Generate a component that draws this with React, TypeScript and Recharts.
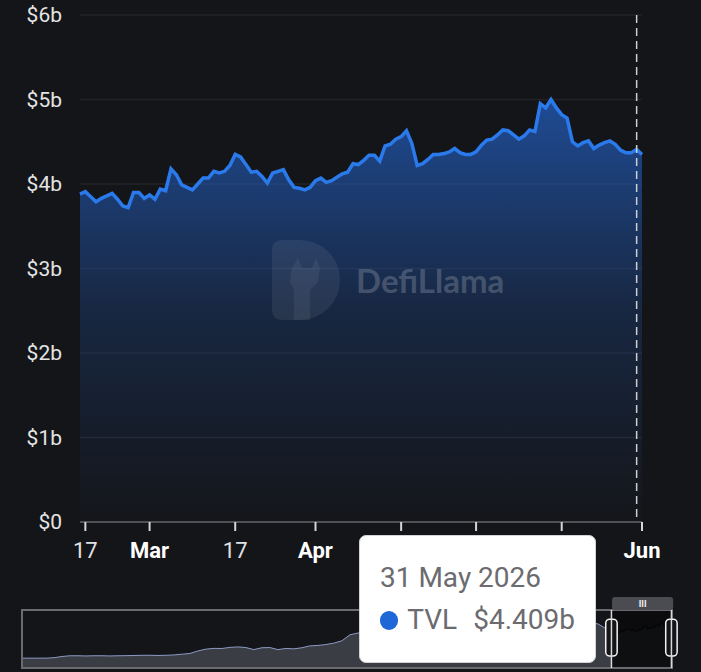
import React from "react";
import {
  Area,
  AreaChart,
  CartesianGrid,
  ReferenceArea,
  ReferenceLine,
  Tooltip,
  XAxis,
  YAxis,
} from "recharts";

// daily TVL in $b, 16 Feb 2026 .. 1 Jun 2026
const START_UTC = Date.UTC(2026, 1, 16);
const tvl = [
  3.88, 3.91, 3.85, 3.79, 3.83, 3.86, 3.89, 3.82, 3.74, 3.72,
  3.9, 3.9, 3.83, 3.87, 3.82, 3.94, 3.92, 4.18, 4.11, 3.99,
  3.96, 3.93, 4.0, 4.07, 4.07, 4.15, 4.13, 4.15, 4.22, 4.35,
  4.32, 4.23, 4.14, 4.15, 4.09, 4.01, 4.13, 4.15, 4.17, 4.05,
  3.96, 3.95, 3.93, 3.96, 4.04, 4.07, 4.02, 4.04, 4.08, 4.12,
  4.14, 4.24, 4.23, 4.28, 4.34, 4.34, 4.27, 4.45, 4.47, 4.53,
  4.56, 4.63, 4.48, 4.22, 4.24, 4.29, 4.35, 4.35, 4.36, 4.38,
  4.42, 4.37, 4.35, 4.35, 4.38, 4.46, 4.52, 4.53, 4.58, 4.64,
  4.63, 4.58, 4.53, 4.57, 4.64, 4.62, 4.95, 4.9, 5.0, 4.9,
  4.82, 4.78, 4.5, 4.45, 4.49, 4.51, 4.42, 4.46, 4.49, 4.51,
  4.47, 4.4, 4.37, 4.37, 4.409, 4.35,
];

// x-axis ticks (day offsets from start) and their labels
const tickDays = [1, 13, 29, 44, 60, 74, 90, 105];
const tickLabels = ["17", "Mar", "17", "Apr", "17", "May", "17", "Jun"];
const monthLabels = ["Mar", "Apr", "May", "Jun"];

const yTicks = [0, 1, 2, 3, 4, 5, 6];
const yLabels = ["$0", "$1b", "$2b", "$3b", "$4b", "$5b", "$6b"];

// longer history for the range slider, one point every 14 days, ending 10 days before start
const HISTORY_STEP = 14;
const HISTORY_END = -10;
const historyTvl = [
  1.07, 1.07, 1.07, 1.07, 1.12, 1.25, 1.33, 1.33, 1.31, 1.33,
  1.33, 1.31, 1.33, 1.34, 1.36, 1.38, 1.38, 1.36, 1.38, 1.42,
  1.5, 1.58, 1.85, 2.05, 2.13, 2.12, 2.24, 2.29, 2.22, 2.0,
  2.2, 2.22, 2.0, 2.12, 2.08, 2.2, 2.4, 2.45, 2.55, 2.7,
  2.95, 3.6, 3.8, 3.9, 4.1, 4.4, 4.2, 4.6, 5.0, 5.4,
  5.1, 5.6, 6.0, 5.7, 5.3, 5.5, 5.2, 4.9, 5.1, 5.4,
  5.0, 4.8, 5.0, 5.3, 5.1, 5.4, 5.6, 5.3, 5.5, 5.2,
  5.0, 4.9, 4.8, 4.3,
];

const BG = "#141518";
const LINE = "#2a7aec";

const mainRows = tvl.map((v, i) => ({ day: i, tvl: v }));

const histStart = HISTORY_END - HISTORY_STEP * (historyTvl.length - 1);
const miniRows = [
  ...historyTvl.map((v, i) => ({ day: histStart + i * HISTORY_STEP, hist: v })),
  ...tvl.map((v, i) => ({ day: i, hist: i === 0 ? v : undefined, win: v })),
];

const fmtDate = (day: number) =>
  new Date(START_UTC + day * 86400000).toLocaleDateString("en-GB", {
    day: "numeric",
    month: "short",
    year: "numeric",
    timeZone: "UTC",
  });

function XTick(props: any) {
  const { x, y, payload } = props;
  const label = tickLabels[tickDays.indexOf(payload.value)];
  const bold = monthLabels.includes(label);
  return (
    <text
      x={x}
      y={y}
      dy={25}
      textAnchor="middle"
      fontFamily="Roboto"
      fontSize={22}
      fontWeight={bold ? 700 : 400}
      fill={bold ? "#ffffff" : "#e2e2e2"}
    >
      {label}
    </text>
  );
}

function YTick(props: any) {
  const { y, payload } = props;
  return (
    <text
      x={62}
      y={y}
      dy={7}
      textAnchor="end"
      fontFamily="Roboto"
      fontSize={21}
      fill="#e4e4e4"
    >
      {yLabels[yTicks.indexOf(payload.value)]}
    </text>
  );
}

function TvlTooltip({ active, payload, label }: any) {
  if (!active || !payload || !payload.length) return null;
  const v = payload[0].value as number;
  return (
    <div
      style={{
        width: 237,
        height: 128,
        boxSizing: "border-box",
        background: "#fff",
        border: "1px solid #d4d4d4",
        borderRadius: 7,
        padding: "0 20px",
        fontFamily: "Roboto",
        fontSize: 28,
        color: "#6b6b70",
      }}
    >
      <div style={{ paddingTop: 26, lineHeight: "32px" }}>{fmtDate(label)}</div>
      <div style={{ display: "flex", alignItems: "center", marginTop: 10, lineHeight: "32px" }}>
        <span
          style={{
            width: 19,
            height: 19,
            borderRadius: 10,
            background: "#1f66d6",
            marginRight: 9,
          }}
        />
        <span>TVL</span>
        <span style={{ marginLeft: 16 }}>${v.toFixed(3)}b</span>
      </div>
    </div>
  );
}

function Watermark() {
  return (
    <svg
      width={260}
      height={90}
      style={{ position: "absolute", left: 270, top: 238, pointerEvents: "none" }}
    >
      <path
        d="M2 12 Q2 2 12 2 L30 2 A40 40 0 0 1 30 82 L12 82 Q2 82 2 72 Z"
        fill="rgba(255,255,255,0.07)"
      />
      <path
        d="M22 30 L28 20 L32 30 L42 30 L46 20 L50 30 L48 44 L40 52 L40 82 L24 82 L24 52 L20 44 Z"
        fill="rgba(255,255,255,0.06)"
      />
      <text
        x={86}
        y={55}
        fontFamily="Lato"
        fontWeight={700}
        fontSize={33}
        fill="rgba(255,255,255,0.2)"
      >
        DefiLlama
      </text>
    </svg>
  );
}

export default function App() {
  return (
    <div
      style={{
        position: "absolute",
        left: 0,
        top: 0,
        width: 701,
        height: 672,
        background: BG,
        overflow: "hidden",
        fontFamily: "Roboto",
      }}
    >
      <div style={{ position: "absolute", left: 0, top: 0, zIndex: 2 }}>
        <AreaChart
          width={701}
          height={570}
          data={mainRows}
          margin={{ top: 15, right: 59, bottom: 8, left: 0 }}
        >
          <defs>
            <linearGradient id="tvlFill" x1="0" y1="0" x2="0" y2="1">
              <stop offset="0%" stopColor="#2360c4" stopOpacity={0.72} />
              <stop offset="50%" stopColor="#2360c4" stopOpacity={0.24} />
              <stop offset="100%" stopColor="#2360c4" stopOpacity={0.01} />
            </linearGradient>
          </defs>
          <CartesianGrid vertical={false} stroke="#222327" strokeWidth={1.5} />
          <XAxis
            dataKey="day"
            type="number"
            domain={[0, 105]}
            ticks={tickDays}
            interval={0}
            height={40}
            tickSize={9}
            tickLine={{ stroke: "#d6d6d6", strokeWidth: 2 }}
            axisLine={{ stroke: "#4f5156", strokeWidth: 2 }}
            tick={<XTick />}
          />
          <YAxis
            domain={[0, 6]}
            ticks={yTicks}
            width={80}
            axisLine={false}
            tickLine={false}
            tick={<YTick />}
          />
          <Tooltip
            defaultIndex={104}
            position={{ x: 359, y: 535 }}
            allowEscapeViewBox={{ x: true, y: true }}
            cursor={{ stroke: "#cfcfcf", strokeWidth: 1.5, strokeDasharray: "8 5" }}
            content={<TvlTooltip />}
            isAnimationActive={false}
            wrapperStyle={{ zIndex: 10, outline: "none" }}
          />
          <Area
            type="linear"
            dataKey="tvl"
            stroke={LINE}
            strokeWidth={3.5}
            fill="url(#tvlFill)"
            fillOpacity={1}
            dot={false}
            activeDot={false}
            isAnimationActive={false}
          />
        </AreaChart>
        <Watermark />
      </div>

      <div style={{ position: "absolute", left: 0, top: 590, zIndex: 1 }}>
        <AreaChart
          width={701}
          height={82}
          data={miniRows}
          margin={{ top: 20, right: 29, bottom: 4, left: 22 }}
        >
          <XAxis dataKey="day" type="number" domain={[histStart, 106]} hide />
          <YAxis domain={[0, 6.3]} hide />
          <ReferenceArea x1={0} x2={106} y1={0} y2={6.3} fill="#0b0b0d" fillOpacity={1} />
          <Area
            type="linear"
            dataKey="hist"
            stroke="#8d9bc4"
            strokeWidth={1}
            fill="#3a3d44"
            fillOpacity={1}
            dot={false}
            activeDot={false}
            isAnimationActive={false}
          />
          <Area
            type="linear"
            dataKey="win"
            stroke="#030303"
            strokeWidth={1}
            fill="#0e0f11"
            fillOpacity={1}
            dot={false}
            activeDot={false}
            isAnimationActive={false}
          />
          <ReferenceArea
            x1={histStart}
            x2={106}
            y1={0}
            y2={6.3}
            fill="none"
            stroke="#6b6b6e"
            strokeWidth={2}
          />
          <ReferenceLine x={0} stroke="#d8d8d8" strokeWidth={1.5} />
          <ReferenceLine x={105} stroke="#d8d8d8" strokeWidth={1.5} />
          <ReferenceArea
            x1={1}
            x2={108}
            y1={6.3}
            y2={7.7}
            ifOverflow="visible"
            shape={(p: any) => (
              <g>
                <rect x={p.x} y={p.y} width={p.width} height={p.height} rx={3} fill="#4a4c51" />
                <text
                  x={p.x + p.width / 2}
                  y={p.y + p.height / 2 + 3}
                  textAnchor="middle"
                  fontSize={9}
                  fontWeight={700}
                  fill="#f0f0f0"
                >
                  III
                </text>
              </g>
            )}
          />
          {[0, 105].map((d) => (
            <ReferenceArea
              key={d}
              x1={d - 10}
              x2={d + 10}
              y1={1.3}
              y2={5.3}
              ifOverflow="visible"
              shape={(p: any) => (
                <rect
                  x={p.x}
                  y={p.y}
                  width={p.width}
                  height={p.height}
                  rx={4}
                  fill={BG}
                  stroke="#f2f2f2"
                  strokeWidth={1.5}
                />
              )}
            />
          ))}
        </AreaChart>
      </div>
    </div>
  );
}
